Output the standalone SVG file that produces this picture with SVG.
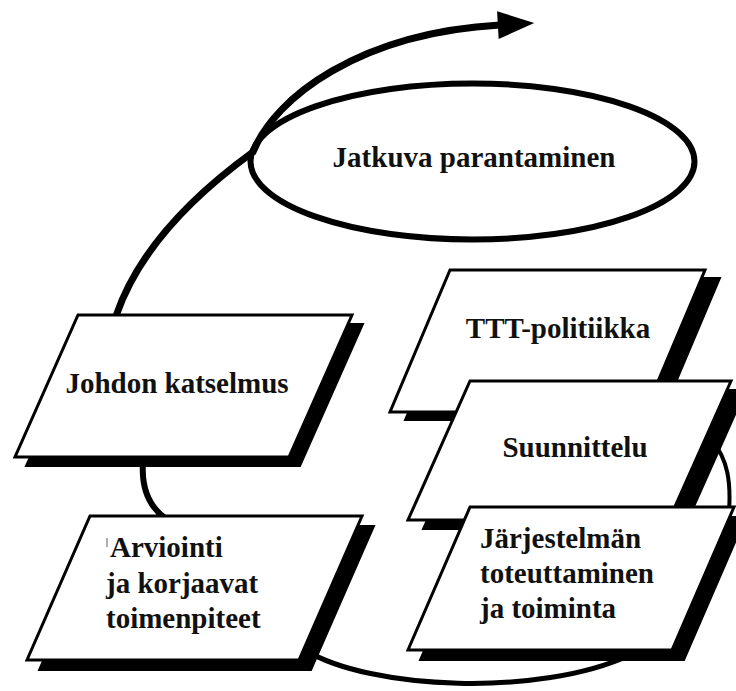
<svg xmlns="http://www.w3.org/2000/svg" width="736" height="691" viewBox="0 0 736 691">
<style>
.box{fill:#fff;stroke:#000;stroke-width:3;stroke-linejoin:miter}
.shadow{fill:#000;stroke:#000;stroke-width:2}
.lbl{font-family:"Liberation Serif","Times New Roman",serif;font-weight:bold;font-size:29px;fill:#111}
.conn{fill:none;stroke:#000;stroke-linecap:round}
</style>
<defs>
<marker id="ah" markerUnits="userSpaceOnUse" markerWidth="40" markerHeight="30" viewBox="0 0 34 28" refX="2" refY="13" orient="auto">
<polygon points="0,0 34,13 0,26" fill="#000"/>
</marker>
</defs>
<rect width="736" height="691" fill="#fff"/>
<g id="connectors">
<path class="conn" style="stroke-width:7" d="M116,316 C135,260 180,205 253,152 C275,97 360,33 500,25" marker-end="url(#ah)"/>
<path class="conn" style="stroke-width:6" d="M143,462 C141,490 150,507 165,518"/>
<path class="conn" style="stroke-width:5" d="M305,650 C370,690 540,697 630,655"/>
<path class="conn" style="stroke-width:4" d="M712,440 C728,460 731,482 729,512"/>
</g>
<g id="n-jatkuva">
<ellipse cx="472.5" cy="161.5" rx="222" ry="78" fill="none" stroke="#000" stroke-width="6"/>
<text class="lbl" x="474" y="167" text-anchor="middle">Jatkuva parantaminen</text>
</g>
<g id="n-johdon">
<polygon class="shadow" transform="translate(11,9)" points="78,315 352,315 289,457 15,457"/>
<polygon class="box" points="78,315 352,315 289,457 15,457"/>
<text class="lbl" x="177" y="393" text-anchor="middle">Johdon katselmus</text>
</g>
<g id="n-arviointi">
<polygon class="shadow" transform="translate(12,10)" points="90,516 362,516 299,660 27,660"/>
<polygon class="box" points="90,516 362,516 299,660 27,660"/>
<line x1="107" y1="538" x2="107" y2="547" stroke="#777" stroke-width="1.2"/>
<text class="lbl" x="110" y="557">Arviointi</text>
<text class="lbl" x="106" y="593">ja korjaavat</text>
<text class="lbl" x="106" y="628">toimenpiteet</text>
</g>
<g id="n-ttt">
<polygon class="shadow" transform="translate(15,8)" points="450,270 705,270 645,412 390,412"/>
<polygon class="box" points="450,270 705,270 645,412 390,412"/>
<text class="lbl" x="558" y="338" text-anchor="middle">TTT-politiikka</text>
</g>
<g id="n-suunnittelu">
<polygon class="shadow" transform="translate(15,9)" points="470,381 731,381 669,520 408,520"/>
<polygon class="box" points="470,381 731,381 669,520 408,520"/>
<text class="lbl" x="575" y="457" text-anchor="middle">Suunnittelu</text>
</g>
<g id="n-jarjestelma">
<polygon class="shadow" transform="translate(12,10)" points="470,507 734,507 672,650 408,650"/>
<polygon class="box" points="470,507 734,507 672,650 408,650"/>
<text class="lbl" x="480" y="548">Järjestelmän</text>
<text class="lbl" x="480" y="583">toteuttaminen</text>
<text class="lbl" x="480" y="618">ja toiminta</text>
</g>
</svg>
